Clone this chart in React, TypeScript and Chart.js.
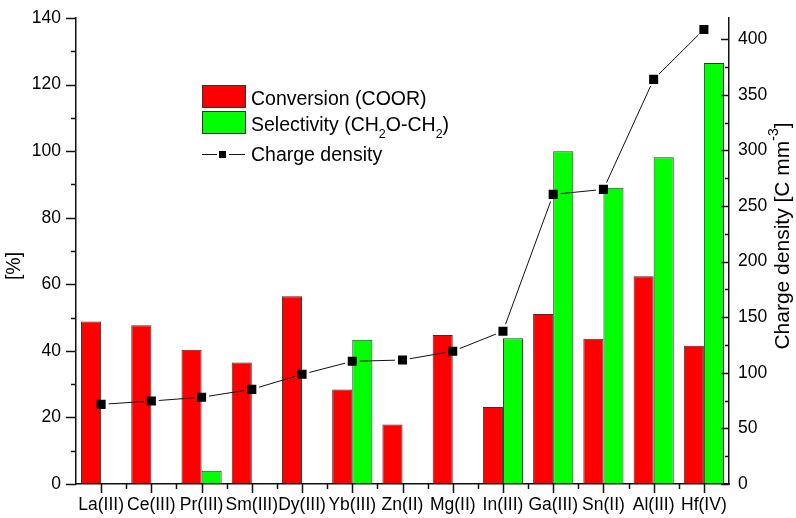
import React, { useEffect, useRef } from "react";
import { Chart, registerables } from "chart.js";

Chart.register(...registerables);

const categories = ["La(III)", "Ce(III)", "Pr(III)", "Sm(III)", "Dy(III)", "Yb(III)", "Zn(II)", "Mg(II)", "In(III)", "Ga(III)", "Sn(II)", "Al(III)", "Hf(IV)"];
const conversion = [48.8, 47.7, 40.3, 36.5, 56.4, 28.4, 17.9, 44.8, 23.1, 51.1, 43.6, 62.4, 41.5];
const selectivity = [null, null, 4.0, null, null, 43.3, null, null, 43.8, 100.0, 89.0, 98.2, 126.5];
const chargeDensity = [71.6, 74.6, 78.0, 85.1, 98.6, 110.3, 111.5, 119.3, 137.3, 260.4, 264.9, 363.8, 408.7];
const leftTicks = [0, 20, 40, 60, 80, 100, 120, 140];
const rightTicks = [0, 50, 100, 150, 200, 250, 300, 350, 400];

const FONT = '"Liberation Sans", Arial, sans-serif';
const AXIS = "#111";
const HIDDEN = "rgba(0,0,0,0)";

const decorPlugin = {
  id: "decor",
  beforeDatasetDraw(chart: any, args: any) {
    if (args.index !== 0) return;
    const meta = chart.getDatasetMeta(0);
    const ctx = chart.ctx;
    const pts = meta.data;
    const gap = 7.5;
    ctx.save();
    ctx.strokeStyle = "#111";
    ctx.lineWidth = 1;
    for (let i = 0; i < pts.length - 1; i++) {
      const a = pts[i], b = pts[i + 1];
      const dx = b.x - a.x, dy = b.y - a.y;
      const len = Math.hypot(dx, dy);
      if (len < gap * 2) continue;
      const ux = dx / len, uy = dy / len;
      ctx.beginPath();
      ctx.moveTo(a.x + ux * gap, a.y + uy * gap);
      ctx.lineTo(b.x - ux * gap, b.y - uy * gap);
      ctx.stroke();
    }
    ctx.restore();
  },
  afterDraw(chart: any) {
    const ctx = chart.ctx;
    const x = chart.scales.x, y = chart.scales.y, y1 = chart.scales.y1;
    ctx.save();
    ctx.strokeStyle = AXIS;
    ctx.lineWidth = 1.5;
    for (let v = 0; v <= 140; v += 10) {
      const py = Math.round(y.getPixelForValue(v)) + 0.5;
      const len = v % 20 === 0 ? 10 : 5;
      ctx.beginPath();
      ctx.moveTo(y.right, py);
      ctx.lineTo(y.right - len, py);
      ctx.stroke();
    }
    for (let v = 0; v <= 400; v += 25) {
      const py = Math.round(y1.getPixelForValue(v)) + 0.5;
      const len = v % 50 === 0 ? 8 : 4;
      ctx.beginPath();
      ctx.moveTo(y1.left, py);
      ctx.lineTo(y1.left - len, py);
      ctx.stroke();
    }
    const n = categories.length;
    for (let i = 0; i < n; i++) {
      const px = Math.round(x.getPixelForValue(i)) + 0.5;
      ctx.beginPath();
      ctx.moveTo(px, x.top);
      ctx.lineTo(px, x.top + 9);
      ctx.stroke();
      if (i < n - 1) {
        const bx = Math.round((x.getPixelForValue(i) + x.getPixelForValue(i + 1)) / 2) + 0.5;
        ctx.beginPath();
        ctx.moveTo(bx, x.top);
        ctx.lineTo(bx, x.top + 5);
        ctx.stroke();
      }
    }
    ctx.restore();

    ctx.save();
    ctx.fillStyle = "#000";
    ctx.font = `19.5px ${FONT}`;
    ctx.textBaseline = "middle";
    ctx.textAlign = "center";
    ctx.translate(15, 266);
    ctx.rotate(-Math.PI / 2);
    ctx.fillText("[%]", 0, 0);
    ctx.restore();

    ctx.save();
    ctx.fillStyle = "#000";
    const tmain = `21px ${FONT}`;
    const tsup = `14px ${FONT}`;
    ctx.textBaseline = "middle";
    ctx.textAlign = "left";
    ctx.font = tmain;
    const w1 = ctx.measureText("Charge density [C mm").width;
    const w3 = ctx.measureText("]").width;
    ctx.font = tsup;
    const w2 = ctx.measureText("-3").width;
    const total = w1 + w2 + w3;
    ctx.translate(783, 236);
    ctx.rotate(-Math.PI / 2);
    let cx = -total / 2;
    ctx.font = tmain;
    ctx.fillText("Charge density [C mm", cx, 0);
    cx += w1;
    ctx.font = tsup;
    ctx.fillText("-3", cx, -9);
    cx += w2;
    ctx.font = tmain;
    ctx.fillText("]", cx, 0);
    ctx.restore();

    const main = `19.5px ${FONT}`;
    ctx.save();
    ctx.lineWidth = 1;
    ctx.strokeStyle = "#333";
    ctx.fillStyle = "#ff0000";
    ctx.fillRect(202, 85, 44, 23);
    ctx.strokeRect(202.5, 85.5, 43, 22);
    ctx.fillStyle = "#00ff00";
    ctx.fillRect(202, 111, 44, 23);
    ctx.strokeRect(202.5, 111.5, 43, 22);
    ctx.strokeStyle = "#111";
    ctx.beginPath();
    ctx.moveTo(202, 154.5);
    ctx.lineTo(217, 154.5);
    ctx.moveTo(229, 154.5);
    ctx.lineTo(245, 154.5);
    ctx.stroke();
    ctx.fillStyle = "#000";
    ctx.fillRect(219, 151, 7, 7);

    ctx.textBaseline = "alphabetic";
    ctx.textAlign = "left";
    ctx.font = main;
    ctx.fillText("Conversion (COOR)", 251, 104.5);
    let lx = 251;
    const parts: [string, boolean][] = [["Selectivity (CH", false], ["2", true], ["O-CH", false], ["2", true], [")", false]];
    for (const [t, s] of parts) {
      ctx.font = s ? `12.5px ${FONT}` : main;
      ctx.fillText(t, lx, s ? 138 : 130.5);
      lx += ctx.measureText(t).width;
    }
    ctx.font = main;
    ctx.fillText("Charge density", 251, 161);
    ctx.restore();
  },
};

export default function App() {
  const ref = useRef<HTMLCanvasElement | null>(null);
  useEffect(() => {
    if (!ref.current) return;
    const tickFont = { family: FONT, size: 17.5 };
    const hiddenGrid = (len: number) => ({ display: true, drawOnChartArea: false, drawTicks: true, tickLength: len, color: HIDDEN, tickColor: HIDDEN });
    const chart = new Chart(ref.current, {
      type: "bar",
      data: {
        labels: categories,
        datasets: [
          {
            type: "line",
            label: "Charge density",
            data: chargeDensity,
            yAxisID: "y1",
            showLine: false,
            pointStyle: "rect",
            pointRadius: 6.4,
            pointBackgroundColor: "#000",
            pointBorderColor: "#000",
            pointBorderWidth: 0,
            borderColor: "#000",
            order: 0,
          } as any,
          {
            label: "Conversion (COOR)",
            data: conversion,
            yAxisID: "y",
            backgroundColor: "#ff0000",
            borderColor: "#333",
            borderWidth: 1,
            order: 1,
          },
          {
            label: "Selectivity (CH2O-CH2)",
            data: selectivity as any,
            yAxisID: "y",
            backgroundColor: "#00ff00",
            borderColor: "#333",
            borderWidth: 1,
            order: 1,
          },
        ],
      },
      options: {
        animation: false,
        responsive: false,
        devicePixelRatio: 1,
        layout: { padding: { top: 18, left: 0, right: 0, bottom: 0 } },
        datasets: { bar: { categoryPercentage: 0.8, barPercentage: 1.0 } },
        plugins: { legend: { display: false }, tooltip: { enabled: false } },
        scales: {
          x: {
            type: "category",
            offset: true,
            grid: { ...hiddenGrid(11), offset: false },
            border: { display: true, color: AXIS, width: 1.5 },
            ticks: { font: tickFont, color: "#000", padding: 0, maxRotation: 0, autoSkip: false },
            afterFit: (s: any) => { s.height = 34; },
          },
          y: {
            position: "left",
            min: 0,
            max: 140,
            grid: hiddenGrid(15),
            border: { display: true, color: AXIS, width: 1.5 },
            ticks: { font: tickFont, color: "#000", padding: 0, stepSize: 20 },
            afterBuildTicks: (s: any) => { s.ticks = leftTicks.map((v) => ({ value: v })); },
            afterFit: (s: any) => { s.width = 76; },
          },
          y1: {
            position: "right",
            min: 0,
            max: 419,
            grid: hiddenGrid(9),
            border: { display: true, color: AXIS, width: 1.5 },
            ticks: { font: tickFont, color: "#000", padding: 0, stepSize: 50 },
            afterBuildTicks: (s: any) => { s.ticks = rightTicks.map((v) => ({ value: v })); },
            afterFit: (s: any) => { s.width = 67; },
          },
        },
      } as any,
      plugins: [decorPlugin],
    });
    return () => chart.destroy();
  }, []);
  return (
    <div style={{ position: "absolute", left: 0, top: 0, width: 796, height: 518, background: "#fff" }}>
      <canvas ref={ref} width={796} height={518} style={{ width: 796, height: 518 }} />
    </div>
  );
}
